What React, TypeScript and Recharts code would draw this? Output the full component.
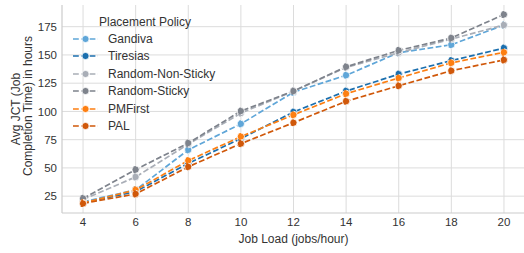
import React from 'react';
import { LineChart, Line, XAxis, YAxis, CartesianGrid, Label } from 'recharts';

const jobLoads = [4, 6, 8, 10, 12, 14, 16, 18, 20];
const gandiva = [20, 30.5, 66, 89, 117, 132, 152, 159, 176.5];
const tiresias = [19, 29, 54, 76, 99.5, 118, 133, 145, 156];
const randomNonSticky = [22, 42, 71, 98.5, 118, 139, 152, 164, 176.5];
const randomSticky = [23, 48.5, 72, 100.3, 118, 139.5, 154, 165, 185.8];
const pmFirst = [19, 30.5, 56.5, 77.7, 97, 115.7, 129.6, 143, 152.3];
const pal = [18.5, 27, 51, 71.5, 90, 109, 122.7, 136, 145.6];

const xTicks = [4, 6, 8, 10, 12, 14, 16, 18, 20];
const yTicks = [25, 50, 75, 100, 125, 150, 175];

const series = [
  { key: 'Gandiva', values: gandiva, color: '#5fa6d8' },
  { key: 'Tiresias', values: tiresias, color: '#1b6fae' },
  { key: 'Random-Non-Sticky', values: randomNonSticky, color: '#a9aeb7' },
  { key: 'Random-Sticky', values: randomSticky, color: '#7e838c' },
  { key: 'PMFirst', values: pmFirst, color: '#fd7f12' },
  { key: 'PAL', values: pal, color: '#d0580a' },
];

const data = jobLoads.map((x, i) => {
  const row: Record<string, number> = { load: x };
  series.forEach((s) => {
    row[s.key] = s.values[i];
  });
  return row;
});

const FONT = '"Liberation Sans", Arial, sans-serif';
const TEXT = '#333333';
const DASH = '5.8 2.5';

// legend sits on top of the plot, drawn by hand (no frame, grid shows through)
const PolicyLegend = () => (
  <div
    style={{
      position: 'absolute',
      left: 66,
      top: 12,
      width: 180,
      height: 125,
      fontFamily: FONT,
      fontSize: 12,
      color: TEXT,
    }}
  >
    <div style={{ position: 'absolute', left: 33, top: 1, lineHeight: '18px', whiteSpace: 'nowrap' }}>
      Placement Policy
    </div>
    {series.map((s, i) => (
      <div
        key={s.key}
        style={{
          position: 'absolute',
          left: 7,
          top: 26.7 + i * 17.45 - 9,
          height: 18,
          display: 'flex',
          alignItems: 'center',
          whiteSpace: 'nowrap',
        }}
      >
        <svg width={25} height={10} style={{ display: 'block' }}>
          <line x1={0} y1={5} x2={25} y2={5} stroke={s.color} strokeWidth={1.7} strokeDasharray={DASH} />
          <circle cx={12.5} cy={5} r={3.6} fill={s.color} stroke="#fff" strokeWidth={0.8} />
        </svg>
        <span style={{ marginLeft: 10, lineHeight: '18px' }}>{s.key}</span>
      </div>
    ))}
  </div>
);

const YLabel = () => (
  <text transform="rotate(-90)" textAnchor="middle" fontFamily={FONT} fontSize={12} fill={TEXT}>
    <tspan x={-109} y={20}>Avg JCT (Job</tspan>
    <tspan x={-106} y={32}>Completion Time) in hours</tspan>
  </text>
);

export default function App() {
  return (
    <div
      style={{
        position: 'fixed',
        left: 0,
        top: 0,
        width: 524,
        height: 253,
        overflow: 'hidden',
        background: '#ffffff',
      }}
    >
      <LineChart width={528} height={253} data={data} margin={{ top: 5, right: 3, bottom: 0, left: 0 }}>
        <CartesianGrid stroke="#dcdcdc" strokeWidth={1} horizontalValues={yTicks} verticalValues={xTicks} />
        <XAxis
          dataKey="load"
          type="number"
          domain={[3.2, 20.8]}
          ticks={xTicks}
          allowDataOverflow
          height={40}
          tickSize={0}
          tickMargin={5}
          axisLine={{ stroke: '#cccccc', strokeWidth: 1.2 }}
          tick={{ fill: TEXT, fontSize: 11.5, fontFamily: FONT }}
        >
          <Label
            value="Job Load (jobs/hour)"
            position="insideBottom"
            offset={10}
            style={{ fill: TEXT, fontSize: 12, fontFamily: FONT }}
          />
        </XAxis>
        <XAxis
          xAxisId="top"
          orientation="top"
          dataKey="load"
          type="number"
          domain={[3.2, 20.8]}
          height={0}
          tick={false}
          tickLine={false}
          axisLine={{ stroke: '#cccccc', strokeWidth: 1.2 }}
        />
        <YAxis
          type="number"
          domain={[10.1, 194.2]}
          ticks={yTicks}
          allowDataOverflow
          width={62}
          tickSize={0}
          tickMargin={5}
          axisLine={{ stroke: '#cccccc', strokeWidth: 1.2 }}
          tick={{ fill: TEXT, fontSize: 11.5, fontFamily: FONT }}
          label={{ content: () => <YLabel /> }}
        />
        {series.map((s) => (
          <Line
            key={s.key}
            type="linear"
            dataKey={s.key}
            stroke={s.color}
            strokeWidth={1.7}
            strokeDasharray={DASH}
            dot={{ r: 3.6, fill: s.color, stroke: '#ffffff', strokeWidth: 0.8 }}
            activeDot={false}
            isAnimationActive={false}
          />
        ))}
      </LineChart>
      <PolicyLegend />
    </div>
  );
}
